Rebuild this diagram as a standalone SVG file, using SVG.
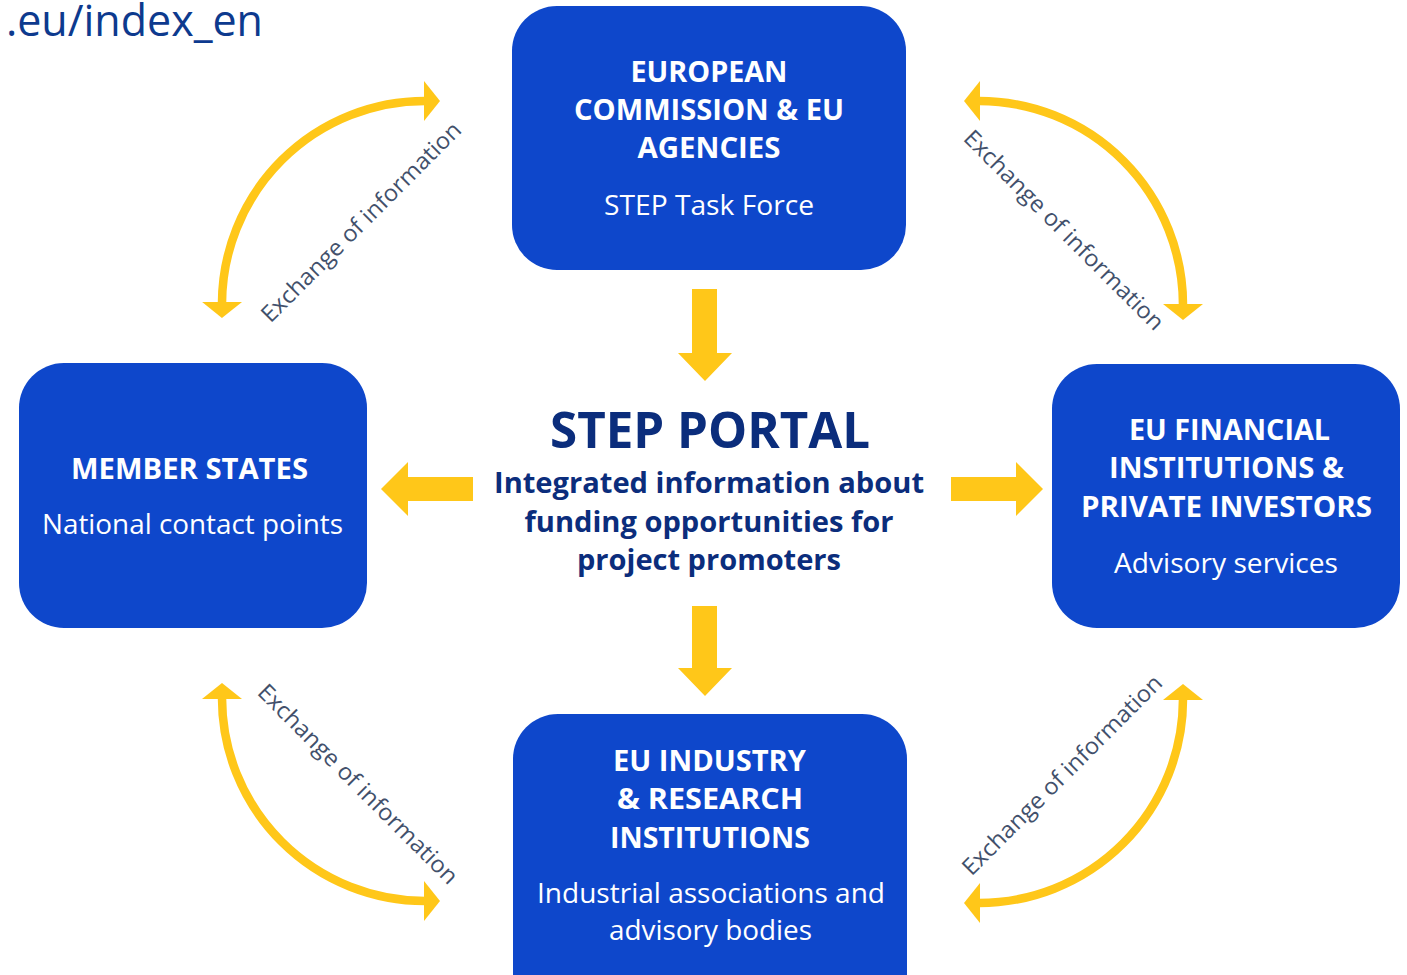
<svg xmlns="http://www.w3.org/2000/svg" width="1407" height="975" viewBox="0 0 1407 975">
<defs>
<style>
.box{fill:#0e47cb}
.t{font-family:"Open Sans","Noto Sans","Liberation Sans",sans-serif;fill:#ffffff;text-anchor:middle}
.b{font-weight:700;font-size:29px}
.r{font-weight:400;font-size:28px}
.c{font-family:"Open Sans","Noto Sans","Liberation Sans",sans-serif;fill:#0b2d7c;text-anchor:middle;font-weight:700}
.ex{font-family:"Open Sans","Noto Sans","Liberation Sans",sans-serif;fill:#42506b;font-size:23px;text-anchor:middle}
.arc{fill:none;stroke:#ffc719;stroke-width:8.5}
.blk{fill:#ffc719}
</style>
<marker id="hd" markerUnits="userSpaceOnUse" markerWidth="17" markerHeight="40" viewBox="0 0 17 40" refX="1" refY="20" orient="auto-start-reverse">
<path d="M0,0 L16,20 L0,40 Z" fill="#ffc719"/>
</marker>
</defs>
<rect width="1407" height="975" fill="#ffffff"/>
<text x="263" y="36" font-family="'Open Sans','Noto Sans',sans-serif" font-size="43" fill="#0d3a8e" text-anchor="end">.eu/index_en</text>

<g id="connectors">
<path class="blk" d="M692,289 H717 V353 H732 L705,381 L678,353 H692 Z"/>
<path class="blk" d="M692,606 H717 V668 H732 L705,696 L678,668 H692 Z"/>
<path class="blk" d="M473,477 V501 H408 V516 L381,489 L408,462 V477 Z"/>
<path class="blk" d="M951,477 V501 H1016 V516 L1043,489 L1016,462 V477 Z"/>
<path class="arc" d="M425,101 A203,203 0 0 0 222,303" marker-start="url(#hd)" marker-end="url(#hd)"/>
<path class="arc" d="M979,101 A204,204 0 0 1 1183,305" marker-start="url(#hd)" marker-end="url(#hd)"/>
<path class="arc" d="M222,698 A203,203 0 0 0 425,901" marker-start="url(#hd)" marker-end="url(#hd)"/>
<path class="arc" d="M1183,699 A204,204 0 0 1 979,903" marker-start="url(#hd)" marker-end="url(#hd)"/>
<text class="ex" transform="translate(361,222) rotate(-45)" x="0" y="8" textLength="272" lengthAdjust="spacingAndGlyphs">Exchange of information</text>
<text class="ex" transform="translate(1064,230) rotate(45)" x="0" y="8" textLength="272" lengthAdjust="spacingAndGlyphs">Exchange of information</text>
<text class="ex" transform="translate(358,784) rotate(45)" x="0" y="8" textLength="272" lengthAdjust="spacingAndGlyphs">Exchange of information</text>
<text class="ex" transform="translate(1062,775) rotate(-45)" x="0" y="8" textLength="272" lengthAdjust="spacingAndGlyphs">Exchange of information</text>
</g>

<g id="node-commission">
<rect class="box" x="512" y="6" width="394" height="264" rx="45"/>
<text class="t b" x="709" y="82" textLength="157" lengthAdjust="spacingAndGlyphs">EUROPEAN</text>
<text class="t b" x="709" y="120" textLength="270" lengthAdjust="spacingAndGlyphs">COMMISSION &amp; EU</text>
<text class="t b" x="709" y="158" textLength="143" lengthAdjust="spacingAndGlyphs">AGENCIES</text>
<text class="t r" x="709" y="215" textLength="210" lengthAdjust="spacingAndGlyphs">STEP Task Force</text>
</g>

<g id="node-portal">
<text class="c" x="710" y="448" font-size="50" textLength="320" lengthAdjust="spacingAndGlyphs">STEP PORTAL</text>
<text class="c" x="709" y="493" font-size="28" textLength="430" lengthAdjust="spacingAndGlyphs">Integrated information about</text>
<text class="c" x="709" y="532" font-size="28" textLength="369" lengthAdjust="spacingAndGlyphs">funding opportunities for</text>
<text class="c" x="709" y="570" font-size="28" textLength="264" lengthAdjust="spacingAndGlyphs">project promoters</text>
</g>

<g id="node-member">
<rect class="box" x="19" y="363" width="348" height="265" rx="45"/>
<text class="t b" x="189.5" y="479" textLength="237" lengthAdjust="spacingAndGlyphs">MEMBER STATES</text>
<text class="t r" x="192.5" y="534" textLength="301" lengthAdjust="spacingAndGlyphs">National contact points</text>
</g>

<g id="node-financial">
<rect class="box" x="1052" y="364" width="348" height="264" rx="45"/>
<text class="t b" x="1229.5" y="440" textLength="201" lengthAdjust="spacingAndGlyphs">EU FINANCIAL</text>
<text class="t b" x="1226.5" y="478" textLength="235" lengthAdjust="spacingAndGlyphs">INSTITUTIONS &amp;</text>
<text class="t b" x="1226.5" y="517" textLength="291" lengthAdjust="spacingAndGlyphs">PRIVATE INVESTORS</text>
<text class="t r" x="1226" y="573" textLength="224" lengthAdjust="spacingAndGlyphs">Advisory services</text>
</g>

<g id="node-industry">
<rect class="box" x="513" y="714" width="394" height="320" rx="45"/>
<text class="t b" x="709.5" y="771" textLength="193" lengthAdjust="spacingAndGlyphs">EU INDUSTRY</text>
<text class="t b" x="710" y="809" textLength="186" lengthAdjust="spacingAndGlyphs">&amp; RESEARCH</text>
<text class="t b" x="710" y="848" textLength="200" lengthAdjust="spacingAndGlyphs">INSTITUTIONS</text>
<text class="t r" x="711" y="903" textLength="348" lengthAdjust="spacingAndGlyphs">Industrial associations and</text>
<text class="t r" x="710.5" y="940" textLength="203" lengthAdjust="spacingAndGlyphs">advisory bodies</text>
</g>
</svg>
